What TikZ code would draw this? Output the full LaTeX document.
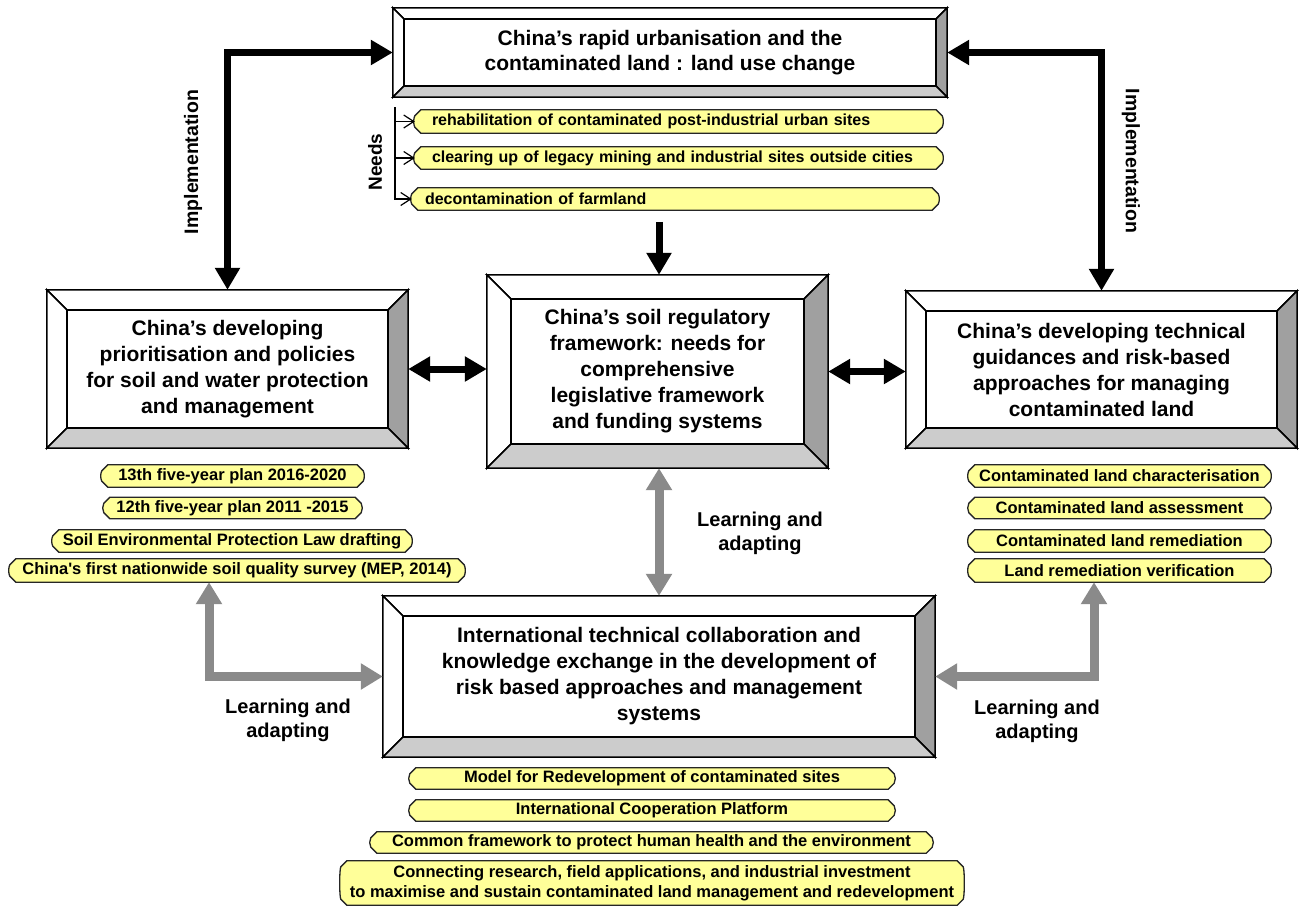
\documentclass[tikz,border=0pt]{standalone}
\usepackage{fontspec}
\setmainfont{Liberation Sans}
\usetikzlibrary{arrows.meta,calc,backgrounds}
\definecolor{plqfill}{RGB}{255,255,153}
\definecolor{arrgray}{RGB}{138,138,138}
\definecolor{bevdark}{RGB}{160,160,160}
\definecolor{bevlight}{RGB}{204,204,204}
\tikzset{
  box/.style={draw=none, inner sep=0pt, align=center, font=\bfseries\fontsize{21}{26}\selectfont},
  plq/.style={draw=none, inner sep=0pt, align=center, font=\bfseries\fontsize{16.5}{20}\selectfont},
  lbl/.style={inner sep=0pt, align=center, font=\bfseries\fontsize{20}{24}\selectfont},
  bevline/.style={draw=black, line width=1.5pt, line join=miter},
  plqline/.style={draw=black!85, fill=plqfill, line width=1.3pt},
  blk/.style={draw=black, line width=7pt, line join=miter},
  gry/.style={draw=arrgray, line width=9pt, line join=miter},
  bhead/.tip={Triangle[length=22pt,width=24pt]},
  ghead/.tip={Triangle[length=22pt,width=25pt]},
  thinl/.style={draw=black, line width=1.2pt},
}
\newcommand{\bevelbg}[2]{%
  \coordinate (#1-i1) at ($(#1.north west)+(#2,#2)$);
  \coordinate (#1-i2) at ($(#1.north east)+(-#2,#2)$);
  \coordinate (#1-i3) at ($(#1.south east)+(-#2,-#2)$);
  \coordinate (#1-i4) at ($(#1.south west)+(#2,-#2)$);
  \path[bevline, fill=white] (#1.north west) -- (#1.north east) -- (#1-i2) -- (#1-i1) -- cycle;
  \path[bevline, fill=white] (#1.north west) -- (#1-i1) -- (#1-i4) -- (#1.south west) -- cycle;
  \path[bevline, fill=bevdark] (#1.north east) -- (#1.south east) -- (#1-i3) -- (#1-i2) -- cycle;
  \path[bevline, fill=bevlight] (#1.south west) -- (#1.south east) -- (#1-i3) -- (#1-i4) -- cycle;
  \path[bevline, fill=white] (#1-i1) rectangle (#1-i3);
}
\newcommand{\plaquebg}[1]{%
  \path[plqline] let \p1=(#1.north west), \p2=(#1.south east) in
    (\x1+6pt,\y1) -- (\x2-6pt,\y1) -- (\x2,\y1-6pt)
    .. controls (\x2+1.5pt,\y1-9pt) and (\x2+1.5pt,\y2+9pt) .. (\x2,\y2+6pt)
    -- (\x2-6pt,\y2) -- (\x1+6pt,\y2) -- (\x1,\y2+6pt)
    .. controls (\x1-1.5pt,\y2+9pt) and (\x1-1.5pt,\y1-9pt) .. (\x1,\y1-6pt) -- cycle;
}
\begin{document}
\begin{tikzpicture}[x=1pt,y=-1pt]
\useasboundingbox (0,0) rectangle (1306,908);

% main boxes
\node[box, minimum width=554pt, minimum height=89pt, font=\bfseries\fontsize{21}{25}\selectfont] (tb) at (670,52.5)
  {China’s rapid urbanisation and the\\contaminated land : land use change};
\node[box, minimum width=361pt, minimum height=158pt] (lb) at (227.5,369)
  {China’s developing\\prioritisation and policies\\for soil and water protection\\and management};
\node[box, minimum width=341pt, minimum height=193pt] (cb) at (657.5,371.5)
  {China’s soil regulatory\\framework: needs for\\comprehensive\\legislative framework\\and funding systems};
\node[box, minimum width=391pt, minimum height=157pt] (rb) at (1101.5,369.5)
  {China’s developing technical\\guidances and risk-based\\approaches for managing\\contaminated land};
\node[box, minimum width=552pt, minimum height=161pt] (bb) at (659,676.5)
  {International technical collaboration and\\knowledge exchange in the development of\\risk based approaches and management\\systems};

% needs plaques
\node[plq, font=\bfseries\fontsize{16}{20}\selectfont, minimum width=527pt, minimum height=23pt, text width=493pt, align=left] (n1) at (678.5,121.5)
  {rehabilitation of contaminated post-industrial urban sites};
\node[plq, font=\bfseries\fontsize{16}{20}\selectfont, minimum width=527pt, minimum height=22pt, text width=493pt, align=left] (n2) at (678.5,158)
  {\mbox{clearing up of legacy mining and industrial sites outside cities}};
\node[plq, font=\bfseries\fontsize{16}{20}\selectfont, minimum width=526pt, minimum height=22pt, text width=500pt, align=left] (n3) at (675,199)
  {decontamination of farmland};

% left plaques
\node[plq, minimum width=261pt, minimum height=22pt] (lp1) at (232.5,476) {13th five-year plan 2016-2020};
\node[plq, minimum width=257pt, minimum height=21pt] (lp2) at (232.5,508) {12th five-year plan 2011 -2015};
\node[plq, minimum width=358pt, minimum height=22pt] (lp3) at (232,541) {Soil Environmental Protection Law drafting};
\node[plq, minimum width=454pt, minimum height=23pt] (lp4) at (237,570.5) {China\textquotesingle s first nationwide soil quality survey (MEP, 2014)};

% right plaques
\node[plq, minimum width=301pt, minimum height=22pt] (rp1) at (1119.5,476) {Contaminated land characterisation};
\node[plq, minimum width=301pt, minimum height=21pt] (rp2) at (1119.5,508) {Contaminated land assessment};
\node[plq, minimum width=301pt, minimum height=22pt] (rp3) at (1119.5,541) {Contaminated land remediation};
\node[plq, minimum width=301pt, minimum height=23pt] (rp4) at (1119.5,570.5) {Land remediation verification};

% bottom plaques
\node[plq, minimum width=484pt, minimum height=21pt] (bp1) at (652,778.5) {Model for Redevelopment of contaminated sites};
\node[plq, minimum width=484pt, minimum height=21pt] (bp2) at (652,810.5) {International Cooperation Platform};
\node[plq, minimum width=561pt, minimum height=21pt] (bp3) at (651.5,842.5) {Common framework to protect human health and the environment};
\node[plq, minimum width=622pt, minimum height=44pt] (bp4) at (652,883)
  {Connecting research, field applications, and industrial investment\\to maximise and sustain contaminated land management and redevelopment};

% labels
\node[lbl, rotate=90, font=\bfseries\fontsize{19.5}{24}\selectfont] (impL) at (193,162) {Implementation};
\node[lbl, rotate=-90, font=\bfseries\fontsize{19.5}{24}\selectfont] (impR) at (1131,161) {Implementation};
\node[lbl, rotate=90, font=\bfseries\fontsize{19}{24}\selectfont] (needs) at (375,162) {Needs};
\node[lbl] (la1) at (288,720) {Learning and\\adapting};
\node[lbl] (la2) at (760,533) {Learning and\\adapting};
\node[lbl] (la3) at (1037,721) {Learning and\\adapting};

% backgrounds
\begin{scope}[on background layer]
  \fill[white] (0,0) rectangle (1306,908);
  \bevelbg{tb}{11}
  \bevelbg{lb}{20}
  \bevelbg{cb}{24}
  \bevelbg{rb}{20}
  \bevelbg{bb}{20}
  \foreach \pq in {n1,n2,n3,lp1,lp2,lp3,lp4,rp1,rp2,rp3,rp4,bp1,bp2,bp3,bp4}{\plaquebg{\pq}}
\end{scope}

% needs bracket
\coordinate (ntop) at (395,107);
\draw[thinl, -{Straight Barb[length=10pt,width=13pt]}] (ntop) |- (n3.west);
\draw[thinl, -{Straight Barb[length=10pt,width=13pt]}] (ntop |- n1.west) -- (n1.west);
\draw[thinl, -{Straight Barb[length=10pt,width=13pt]}] (ntop |- n2.west) -- (n2.west);

% black arrows
\draw[blk, {bhead}-{bhead}] (lb.north) |- (tb.west);
\draw[blk, {bhead}-{bhead}] (rb.north) |- (tb.east);
\coordinate (ndown) at ($(cb.north)+(1.5,-53)$);
\draw[blk, -{bhead}] (ndown) -- (ndown |- cb.north);
\draw[blk, {bhead}-{bhead}] (lb.east) -- (lb.east -| cb.west);
\draw[blk, {bhead}-{bhead}] (cb.east) -- (cb.east -| rb.west);

% gray arrows
\draw[gry, {ghead}-{ghead}] ($(cb.south)+(1.5,0)$) -- ($(cb.south |- bb.north)+(1.5,0)$);
\draw[gry, {ghead}-{ghead}] ($(lp4.south)+(-28,0)$) |- (bb.west);
\draw[gry, {ghead}-{ghead}] (bb.east) -| ($(rp4.south)+(-25.5,0)$);
\end{tikzpicture}
\end{document}
